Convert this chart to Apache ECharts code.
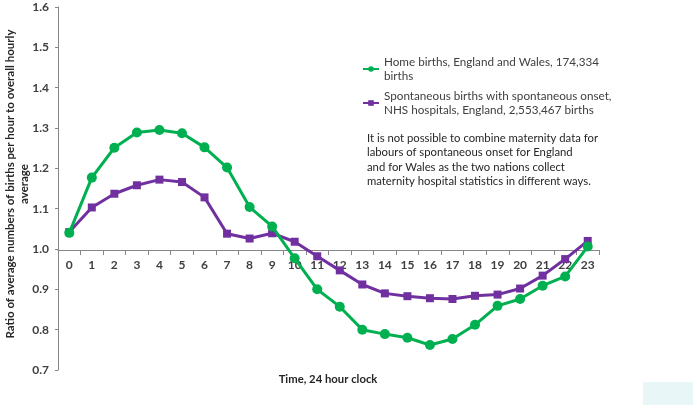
<!DOCTYPE html>
<html>
<head>
<meta charset="utf-8">
<script src="https://cdn.jsdelivr.net/npm/echarts@6/dist/echarts.min.js"></script>
<style>
html,body{margin:0;padding:0;background:#fff;}
#chart{width:697px;height:408px;}
</style>
</head>
<body>
<div id="chart"></div>
<script>
const hours = ['0','1','2','3','4','5','6','7','8','9','10','11','12','13','14','15','16','17','18','19','20','21','22','23'];
const homeBirths = [1.040,1.177,1.251,1.289,1.295,1.287,1.252,1.202,1.104,1.056,0.977,0.900,0.857,0.800,0.789,0.780,0.762,0.777,0.812,0.859,0.876,0.909,0.932,1.006];
const hospitalBirths = [1.042,1.103,1.137,1.158,1.172,1.166,1.128,1.038,1.026,1.039,1.018,0.982,0.947,0.912,0.890,0.883,0.878,0.876,0.884,0.887,0.902,0.934,0.975,1.020];
const yTicks = ['0.7','0.8','0.9','1.0','1.1','1.2','1.3','1.4','1.5','1.6'];
const homeName = 'Home births, England and Wales, 174,334\nbirths';
const hospName = 'Spontaneous births with spontaneous onset,\nNHS hospitals, England, 2,553,467 births';
const yTitle = 'Ratio of average numbers of births per hour to overall hourly\naverage';
const xTitle = 'Time, 24 hour clock';
const note = 'It is not possible to combine maternity data for\nlabours of spontaneous onset for England\nand for Wales as the two nations collect\nmaternity hospital statistics in different ways.';

const FONT = 'Lato, "Liberation Sans", sans-serif';
const chart = echarts.init(document.getElementById('chart'), null, {renderer: 'canvas'});
const gridTop = 7, gridBottom = 38;
const option = {
  animation: false,
  textStyle: {fontFamily: FONT},
  grid: {left: 58, right: 98, top: gridTop, bottom: gridBottom},
  legend: {
    orient: 'vertical', left: 362, top: 48, padding: 0,
    itemWidth: 16, itemHeight: 7, itemGap: -8,
    data: [homeName, hospName],
    textStyle: {fontFamily: FONT, fontSize: 11.7, color: '#404040', lineHeight: 14, padding: [14, 0, 0, 0]}
  },
  xAxis: {
    type: 'category', data: hours, boundaryGap: true,
    offset: -120,
    axisLine: {onZero: false, lineStyle: {color: '#868686', width: 1}},
    axisTick: {show: true, alignWithLabel: false, length: 5, lineStyle: {color: '#868686'}},
    axisLabel: {color: '#404040', fontWeight: 'bold', fontSize: 12, margin: 9, fontFamily: FONT, interval: 0},
    splitLine: {show: false}
  },
  yAxis: {
    type: 'value', min: 0.7, max: 1.6, interval: 0.1,
    axisLine: {show: true, lineStyle: {color: '#868686', width: 1}},
    axisTick: {show: true, length: 3, lineStyle: {color: '#868686'}},
    axisLabel: {color: '#404040', fontWeight: 'bold', fontSize: 12, margin: 9, fontFamily: FONT,
      formatter: (v) => yTicks[Math.round((v - 0.7) * 10)] || v.toFixed(1)},
    splitLine: {show: false}
  },
  graphic: [
    {type: 'text', x: 17, y: 184, rotation: Math.PI / 2,
      style: {text: yTitle, fontFamily: FONT, fontSize: 11.5, fontWeight: 'bold', fill: '#262626',
        textAlign: 'center', textVerticalAlign: 'middle', lineHeight: 14}},
    {type: 'text', x: 328, y: 379,
      style: {text: xTitle, fontFamily: FONT, fontSize: 11.3, fontWeight: 'bold', fill: '#262626',
        textAlign: 'center', textVerticalAlign: 'middle'}},
    {type: 'text', x: 367, y: 131,
      style: {text: note, fontFamily: FONT, fontSize: 11.3, fill: '#262626', lineHeight: 14.5,
        textAlign: 'left', textVerticalAlign: 'top'}},
    {type: 'rect', shape: {x: 643, y: 382, width: 50, height: 23}, style: {fill: '#e8f6f7'}}
  ],
  series: [
    {name: hospName, type: 'line', data: hospitalBirths, symbol: 'rect', symbolSize: 8,
      lineStyle: {color: '#7030A0', width: 3}, itemStyle: {color: '#7030A0'}, z: 2},
    {name: homeName, type: 'line', data: homeBirths, symbol: 'circle', symbolSize: 10,
      lineStyle: {color: '#00B050', width: 3}, itemStyle: {color: '#00B050'}, z: 3}
  ]
};
chart.setOption(option);
</script>
</body>
</html>
